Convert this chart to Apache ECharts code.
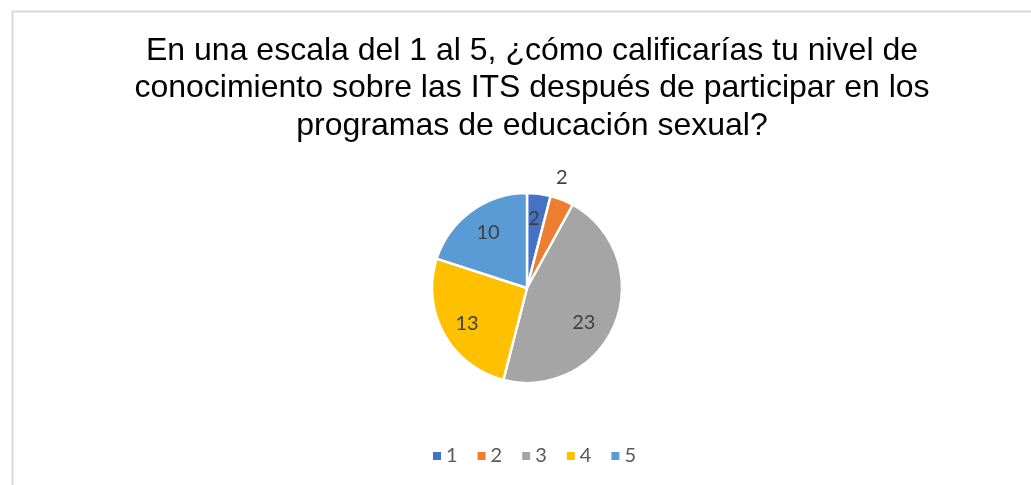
<!DOCTYPE html>
<html>
<head>
<meta charset="utf-8">
<script src="https://cdn.jsdelivr.net/npm/echarts@6/dist/echarts.min.js"></script>
<style>html,body{margin:0;padding:0;background:#fff;}#c{width:1031px;height:485px;}</style>
</head>
<body>
<div id="c"></div>
<script>
const titleText = 'En una escala del 1 al 5, ¿cómo calificarías tu nivel de\nconocimiento sobre las ITS después de participar en los\nprogramas de educación sexual?';
const categories = ['1', '2', '3', '4', '5'];
const values = [2, 2, 23, 13, 10];
const colors = ['#4472C4', '#ED7D31', '#A5A5A5', '#FFC000', '#5B9BD5'];

const chart = echarts.init(document.getElementById('c'), null, {renderer: 'canvas'});
const mainData = categories.map((c, i) => ({name: c, value: values[i], itemStyle: {color: colors[i]}}));
const labelData = categories.map((c, i) => ({name: c, value: values[i]}));
const labelNudge = [[-2, 3], [8, -43], [-11, 8], [4, 0], [4, 4]];

chart.setOption({
  backgroundColor: '#ffffff',
  animation: false,
  graphic: [{
    type: 'rect', left: 10, top: 9, silent: true,
    shape: {width: 1040, height: 500},
    style: {fill: 'none', stroke: '#d9d9d9', lineWidth: 2}
  }],
  title: {
    text: titleText,
    left: 527, top: 27, textAlign: 'center',
    textStyle: {fontFamily: '"Liberation Sans", Arial, sans-serif', fontSize: 32, fontWeight: 'normal', color: '#000000', lineHeight: 37.5}
  },
  legend: {
    data: categories,
    bottom: 14, left: 428,
    itemWidth: 8, itemHeight: 8, itemGap: 20, icon: 'rect',
    itemStyle: {borderWidth: 0},
    textStyle: {fontFamily: 'Lato, "Noto Sans", sans-serif', fontSize: 20, color: '#595959'}
  },
  series: [{
    type: 'pie',
    center: [527, 288], radius: [0, 95],
    startAngle: 90, clockwise: true,
    data: mainData,
    itemStyle: {borderColor: '#ffffff', borderWidth: 2.5},
    label: {show: false}, labelLine: {show: false},
    silent: true
  }, {
    type: 'pie',
    center: [527, 288], radius: [0, 140],
    startAngle: 90, clockwise: true,
    data: labelData,
    silent: true,
    itemStyle: {color: 'rgba(0,0,0,0)'},
    label: {show: true, position: 'inside', formatter: '{c}', fontFamily: 'Lato, "Noto Sans", sans-serif', fontSize: 20, color: '#404040'},
    labelLine: {show: false},
    labelLayout: function (p) { const n = labelNudge[p.dataIndex]; return {dx: n[0], dy: n[1]}; }
  }]
});
</script>
</body>
</html>
